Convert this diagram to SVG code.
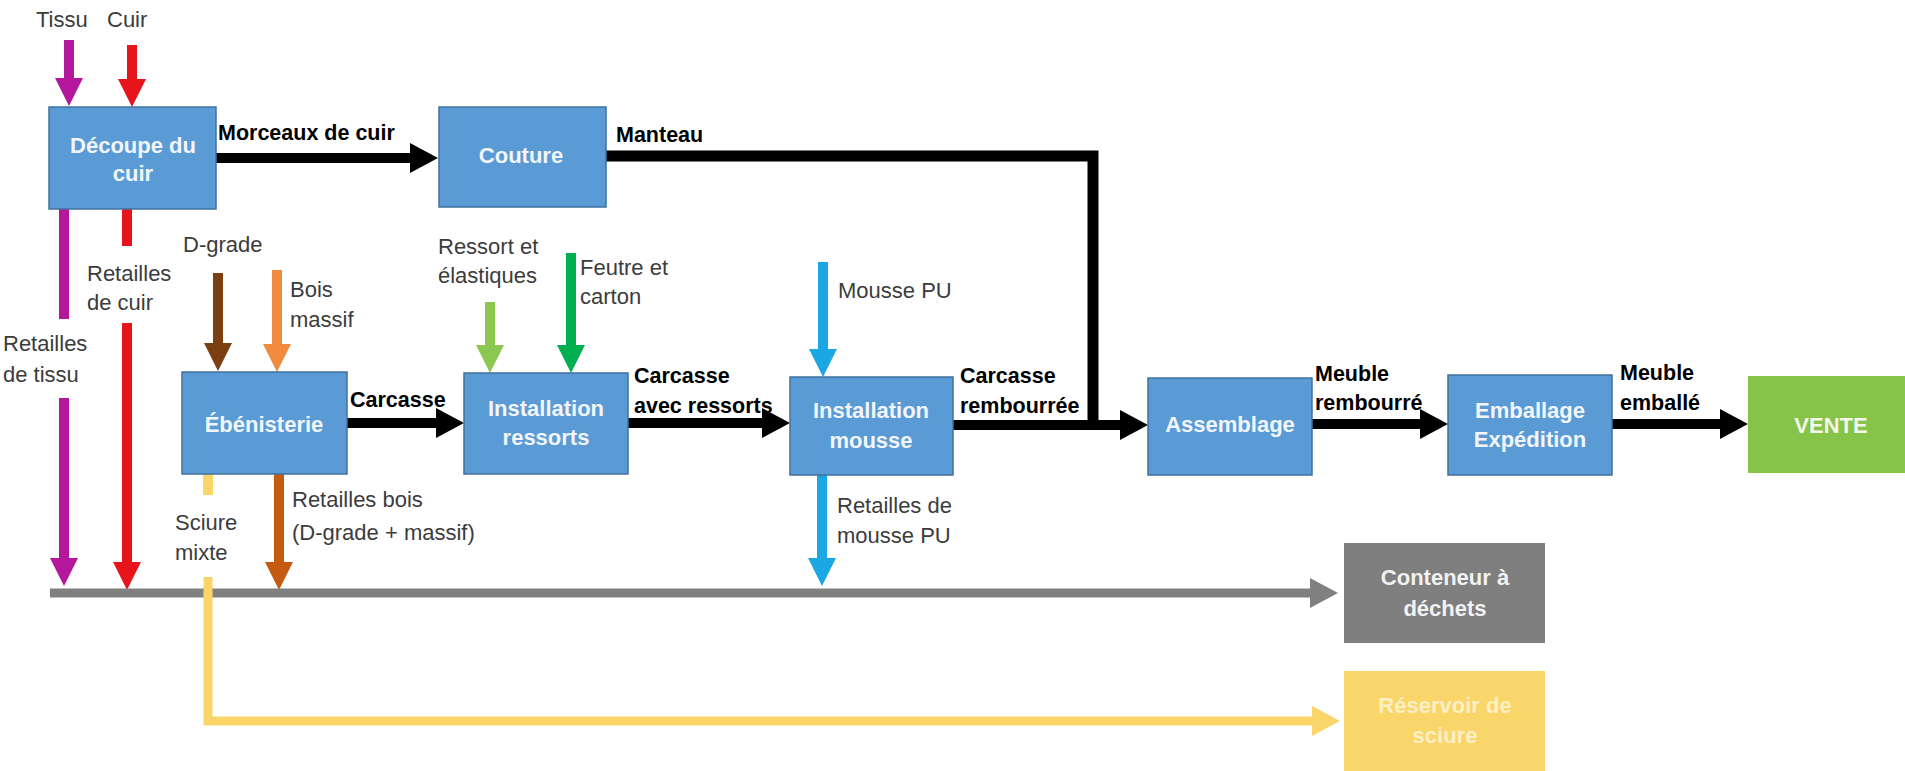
<svg xmlns="http://www.w3.org/2000/svg" width="1905" height="771" viewBox="0 0 1905 771">
<defs>
<style>
.box{fill:#5B9BD5;stroke:#41719C;stroke-width:1.5}
.bt{font-family:"Liberation Sans",Arial,sans-serif;font-weight:bold;font-size:22px;fill:#F2F6FC;text-anchor:middle}
.lbl{font-family:"Liberation Sans",Arial,sans-serif;font-size:22px;fill:#3C3C3C}
.bl{font-family:"Liberation Sans",Arial,sans-serif;font-weight:bold;font-size:21.5px;fill:#000}
.blk{stroke:#000;stroke-width:10;fill:none}
.v{stroke-width:10;fill:none}
</style>
<marker id="mBlack" markerUnits="userSpaceOnUse" markerWidth="28" markerHeight="30" refX="0" refY="15" orient="auto"><path d="M0,0 L28,15 L0,30 z" fill="#000"/></marker>
<marker id="mPurple" markerUnits="userSpaceOnUse" markerWidth="28" markerHeight="28" refX="0" refY="14" orient="auto"><path d="M0,0 L28,14 L0,28 z" fill="#B4169C"/></marker>
<marker id="mRed" markerUnits="userSpaceOnUse" markerWidth="28" markerHeight="28" refX="0" refY="14" orient="auto"><path d="M0,0 L28,14 L0,28 z" fill="#E8141B"/></marker>
<marker id="mBrown" markerUnits="userSpaceOnUse" markerWidth="28" markerHeight="28" refX="0" refY="14" orient="auto"><path d="M0,0 L28,14 L0,28 z" fill="#7B3F12"/></marker>
<marker id="mOrange" markerUnits="userSpaceOnUse" markerWidth="28" markerHeight="28" refX="0" refY="14" orient="auto"><path d="M0,0 L28,14 L0,28 z" fill="#F08A3C"/></marker>
<marker id="mRust" markerUnits="userSpaceOnUse" markerWidth="28" markerHeight="28" refX="0" refY="14" orient="auto"><path d="M0,0 L28,14 L0,28 z" fill="#C55A11"/></marker>
<marker id="mLgreen" markerUnits="userSpaceOnUse" markerWidth="28" markerHeight="28" refX="0" refY="14" orient="auto"><path d="M0,0 L28,14 L0,28 z" fill="#8CC751"/></marker>
<marker id="mGreen" markerUnits="userSpaceOnUse" markerWidth="28" markerHeight="28" refX="0" refY="14" orient="auto"><path d="M0,0 L28,14 L0,28 z" fill="#00B050"/></marker>
<marker id="mBlue" markerUnits="userSpaceOnUse" markerWidth="28" markerHeight="28" refX="0" refY="14" orient="auto"><path d="M0,0 L28,14 L0,28 z" fill="#1AA7E3"/></marker>
<marker id="mGray" markerUnits="userSpaceOnUse" markerWidth="28" markerHeight="30" refX="0" refY="15" orient="auto"><path d="M0,0 L28,15 L0,30 z" fill="#808080"/></marker>
<marker id="mYellow" markerUnits="userSpaceOnUse" markerWidth="28" markerHeight="30" refX="0" refY="15" orient="auto"><path d="M0,0 L28,15 L0,30 z" fill="#FAD56A"/></marker>
</defs>
<rect width="1905" height="771" fill="#fff"/>

<g id="connectors">
  <!-- inputs -->
  <line class="v" stroke="#B4169C" x1="69" y1="40" x2="69" y2="78" marker-end="url(#mPurple)"/>
  <line class="v" stroke="#E8141B" x1="132" y1="45" x2="132" y2="79" marker-end="url(#mRed)"/>
  <!-- waste from cutting -->
  <line class="v" stroke="#B4169C" x1="64" y1="209" x2="64" y2="319"/>
  <line class="v" stroke="#B4169C" x1="64" y1="398" x2="64" y2="558" marker-end="url(#mPurple)"/>
  <line class="v" stroke="#E8141B" x1="127" y1="209" x2="127" y2="246"/>
  <line class="v" stroke="#E8141B" x1="127" y1="323" x2="127" y2="562" marker-end="url(#mRed)"/>
  <!-- wood inputs -->
  <line class="v" stroke="#7B3F12" x1="218" y1="273" x2="218" y2="343" marker-end="url(#mBrown)"/>
  <line class="v" stroke="#F08A3C" x1="277" y1="270" x2="277" y2="344" marker-end="url(#mOrange)"/>
  <line class="v" stroke="#C55A11" x1="279" y1="474" x2="279" y2="562" marker-end="url(#mRust)"/>
  <!-- springs inputs -->
  <line class="v" stroke="#8CC751" x1="490" y1="302" x2="490" y2="345" marker-end="url(#mLgreen)"/>
  <line class="v" stroke="#00B050" x1="571" y1="253" x2="571" y2="345" marker-end="url(#mGreen)"/>
  <!-- foam -->
  <line class="v" stroke="#1AA7E3" x1="823" y1="262" x2="823" y2="349" marker-end="url(#mBlue)"/>
  <line class="v" stroke="#1AA7E3" x1="822" y1="475" x2="822" y2="558" marker-end="url(#mBlue)"/>
  <!-- waste line -->
  <line stroke="#808080" stroke-width="9" x1="50" y1="593" x2="1310" y2="593" marker-end="url(#mGray)"/>
  <!-- sawdust -->
  <line class="v" stroke="#FAD56A" stroke-width="9" x1="208" y1="474" x2="208" y2="495"/>
  <polyline stroke="#FAD56A" stroke-width="9" fill="none" points="208,577 208,721 1312,721" marker-end="url(#mYellow)"/>
  <!-- main flow -->
  <line class="blk" x1="216" y1="158" x2="410" y2="158" marker-end="url(#mBlack)"/>
  <polyline stroke="#000" stroke-width="11" fill="none" stroke-linejoin="miter" points="606,156 1093,156 1093,430"/>
  <line class="blk" x1="347" y1="423" x2="436" y2="423" marker-end="url(#mBlack)"/>
  <line class="blk" x1="628" y1="423" x2="762" y2="423" marker-end="url(#mBlack)"/>
  <line class="blk" x1="953" y1="425" x2="1120" y2="425" marker-end="url(#mBlack)"/>
  <line class="blk" x1="1312" y1="424" x2="1420" y2="424" marker-end="url(#mBlack)"/>
  <line class="blk" x1="1612" y1="424" x2="1720" y2="424" marker-end="url(#mBlack)"/>
</g>

<g id="edge-labels">
  <text class="lbl" x="36" y="27">Tissu</text>
  <text class="lbl" x="107" y="27">Cuir</text>
  <text class="lbl" x="87" y="281">Retailles</text>
  <text class="lbl" x="87" y="310">de cuir</text>
  <text class="lbl" x="3" y="351">Retailles</text>
  <text class="lbl" x="3" y="382">de tissu</text>
  <text class="lbl" x="183" y="252">D-grade</text>
  <text class="lbl" x="290" y="297">Bois</text>
  <text class="lbl" x="290" y="327">massif</text>
  <text class="lbl" x="438" y="254">Ressort et</text>
  <text class="lbl" x="438" y="283">élastiques</text>
  <text class="lbl" x="580" y="275">Feutre et</text>
  <text class="lbl" x="580" y="304">carton</text>
  <text class="lbl" x="838" y="298">Mousse PU</text>
  <text class="lbl" x="837" y="513">Retailles de</text>
  <text class="lbl" x="837" y="543">mousse PU</text>
  <text class="lbl" x="175" y="530">Sciure</text>
  <text class="lbl" x="175" y="560">mixte</text>
  <text class="lbl" x="292" y="507">Retailles bois</text>
  <text class="lbl" x="292" y="540">(D-grade + massif)</text>
  <text class="bl" x="218" y="140">Morceaux de cuir</text>
  <text class="bl" x="616" y="142">Manteau</text>
  <text class="bl" x="350" y="407">Carcasse</text>
  <text class="bl" x="634" y="383">Carcasse</text>
  <text class="bl" x="634" y="413">avec ressorts</text>
  <text class="bl" x="960" y="383">Carcasse</text>
  <text class="bl" x="960" y="413">rembourrée</text>
  <text class="bl" x="1315" y="381">Meuble</text>
  <text class="bl" x="1315" y="410">rembourré</text>
  <text class="bl" x="1620" y="380">Meuble</text>
  <text class="bl" x="1620" y="410">emballé</text>
</g>

<g id="decoupe">
  <rect class="box" x="49" y="107" width="167" height="102"/>
  <text class="bt" x="133" y="153">Découpe du</text>
  <text class="bt" x="133" y="181">cuir</text>
</g>
<g id="couture">
  <rect class="box" x="439" y="107" width="167" height="100"/>
  <text class="bt" x="521" y="163">Couture</text>
</g>
<g id="ebenisterie">
  <rect class="box" x="182" y="372" width="165" height="102"/>
  <text class="bt" x="264" y="432">Ébénisterie</text>
</g>
<g id="installation-ressorts">
  <rect class="box" x="464" y="373" width="164" height="101"/>
  <text class="bt" x="546" y="416">Installation</text>
  <text class="bt" x="546" y="445">ressorts</text>
</g>
<g id="installation-mousse">
  <rect class="box" x="790" y="377" width="163" height="98"/>
  <text class="bt" x="871" y="418">Installation</text>
  <text class="bt" x="871" y="448">mousse</text>
</g>
<g id="assemblage">
  <rect class="box" x="1148" y="378" width="164" height="97"/>
  <text class="bt" x="1230" y="432">Assemblage</text>
</g>
<g id="emballage">
  <rect class="box" x="1448" y="375" width="164" height="100"/>
  <text class="bt" x="1530" y="418">Emballage</text>
  <text class="bt" x="1530" y="447">Expédition</text>
</g>
<g id="vente">
  <rect x="1748" y="376" width="157" height="97" fill="#86C349"/>
  <text class="bt" x="1831" y="433" fill="#F2F8EA" style="fill:#F2F8EA">VENTE</text>
</g>
<g id="conteneur">
  <rect x="1344" y="543" width="201" height="100" fill="#7F7F7F"/>
  <text class="bt" x="1445" y="585" style="fill:#F2F2F2">Conteneur à</text>
  <text class="bt" x="1445" y="616" style="fill:#F2F2F2">déchets</text>
</g>
<g id="reservoir">
  <rect x="1344" y="671" width="201" height="100" fill="#FAD56A"/>
  <text class="bt" x="1445" y="713" style="fill:#FDF0C4">Réservoir de</text>
  <text class="bt" x="1445" y="743" style="fill:#FDF0C4">sciure</text>
</g>
</svg>
